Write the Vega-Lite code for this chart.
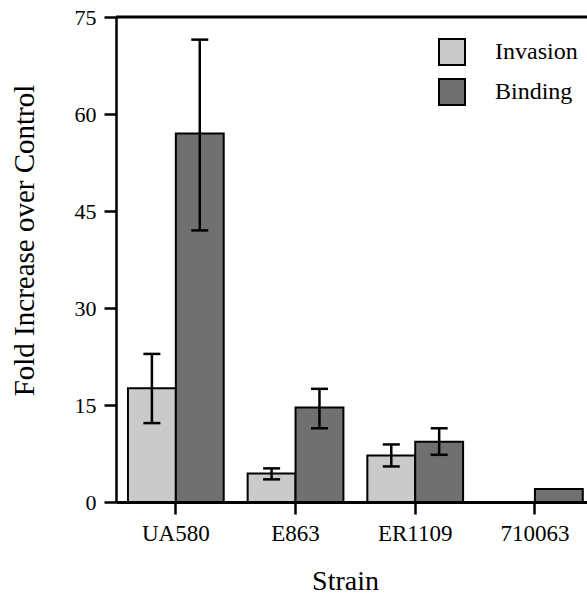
{
  "$schema": "https://vega.github.io/schema/vega-lite/v6.json",
  "width": 471,
  "height": 485,
  "autosize": {"type": "none"},
  "padding": {"left": 116, "top": 17, "right": 0, "bottom": 92},
  "background": "white",
  "config": {
    "view": {"stroke": null},
    "font": "Liberation Serif, Times New Roman, serif",
    "axis": {
      "domainColor": "black",
      "tickColor": "black",
      "labelColor": "black",
      "titleColor": "black",
      "labelFont": "Liberation Serif, Times New Roman, serif",
      "titleFont": "Liberation Serif, Times New Roman, serif",
      "titleFontWeight": "normal",
      "grid": false
    },
    "legend": {"labelFont": "Liberation Serif, Times New Roman, serif", "labelColor": "black"}
  },
  "data": {
    "values": [
      {"strain": "UA580", "series": "Invasion", "value": 17.6, "lo": 12.2, "hi": 22.9},
      {"strain": "UA580", "series": "Binding", "value": 57.0, "lo": 42.0, "hi": 71.5},
      {"strain": "E863", "series": "Invasion", "value": 4.4, "lo": 3.5, "hi": 5.2},
      {"strain": "E863", "series": "Binding", "value": 14.6, "lo": 11.4, "hi": 17.5},
      {"strain": "ER1109", "series": "Invasion", "value": 7.2, "lo": 5.5, "hi": 8.9},
      {"strain": "ER1109", "series": "Binding", "value": 9.3, "lo": 7.3, "hi": 11.4},
      {"strain": "710063", "series": "Invasion", "value": 0, "lo": null, "hi": null},
      {"strain": "710063", "series": "Binding", "value": 2.0, "lo": null, "hi": null}
    ]
  },
  "layer": [
    {
      "mark": {"type": "bar", "stroke": "black", "strokeWidth": 2, "opacity": 1},
      "encoding": {
        "x": {
          "field": "strain", "type": "nominal",
          "sort": ["UA580", "E863", "ER1109", "710063"],
          "scale": {"paddingInner": 0.2, "paddingOuter": 0.0675, "align": 0.74},
          "axis": {
            "title": "Strain", "labelAngle": 0, "labelFontSize": 23, "labelPadding": 8,
            "tickSize": 12, "tickWidth": 2.5, "domainWidth": 3,
            "titleFontSize": 28, "titleX": 229, "titleY": 87, "titleBaseline": "alphabetic", "titleAnchor": "middle"
          }
        },
        "xOffset": {"field": "series", "type": "nominal", "sort": ["Invasion", "Binding"], "scale": {"paddingInner": 0, "paddingOuter": 0}},
        "y": {
          "field": "value", "type": "quantitative",
          "scale": {"domain": [0, 75], "nice": false},
          "axis": {
            "title": "Fold Increase over Control", "values": [0, 15, 30, 45, 60, 75],
            "labelFontSize": 22, "labelPadding": 8, "tickSize": 12, "tickWidth": 2.5, "domainWidth": 2.5,
            "titleFontSize": 29, "titleAngle": -90, "titleX": -83, "titleY": 223,
            "titleAlign": "center", "titleBaseline": "alphabetic"
          }
        },
        "color": {
          "field": "series", "type": "nominal",
          "scale": {"domain": ["Invasion", "Binding"], "range": ["#cacaca", "#707070"]},
          "legend": {
            "title": null, "orient": "none", "legendX": 322, "legendY": 21,
            "symbolType": "square", "symbolSize": 676, "symbolStrokeColor": "black", "symbolStrokeWidth": 2,
            "symbolOpacity": 1,
            "labelFontSize": 24, "labelOffset": 29, "rowPadding": 6, "padding": 0
          }
        }
      }
    },
    {
      "transform": [{"filter": "datum.lo != null"}],
      "mark": {"type": "rule", "strokeWidth": 2.5, "color": "black"},
      "encoding": {
        "x": {"field": "strain", "type": "nominal", "sort": ["UA580", "E863", "ER1109", "710063"]},
        "xOffset": {"field": "series", "type": "nominal", "sort": ["Invasion", "Binding"]},
        "y": {"field": "lo", "type": "quantitative"},
        "y2": {"field": "hi"}
      }
    },
    {
      "transform": [{"filter": "datum.lo != null"}],
      "mark": {"type": "tick", "size": 17, "thickness": 2.5, "color": "black", "opacity": 1},
      "encoding": {
        "x": {"field": "strain", "type": "nominal", "sort": ["UA580", "E863", "ER1109", "710063"]},
        "xOffset": {"field": "series", "type": "nominal", "sort": ["Invasion", "Binding"]},
        "y": {"field": "hi", "type": "quantitative"}
      }
    },
    {
      "transform": [{"filter": "datum.lo != null"}],
      "mark": {"type": "tick", "size": 17, "thickness": 2.5, "color": "black", "opacity": 1},
      "encoding": {
        "x": {"field": "strain", "type": "nominal", "sort": ["UA580", "E863", "ER1109", "710063"]},
        "xOffset": {"field": "series", "type": "nominal", "sort": ["Invasion", "Binding"]},
        "y": {"field": "lo", "type": "quantitative"}
      }
    },
    {
      "data": {"values": [{"top": 75}]},
      "mark": {"type": "rule", "strokeWidth": 3, "color": "black"},
      "encoding": {"y": {"field": "top", "type": "quantitative"}}
    }
  ]
}
